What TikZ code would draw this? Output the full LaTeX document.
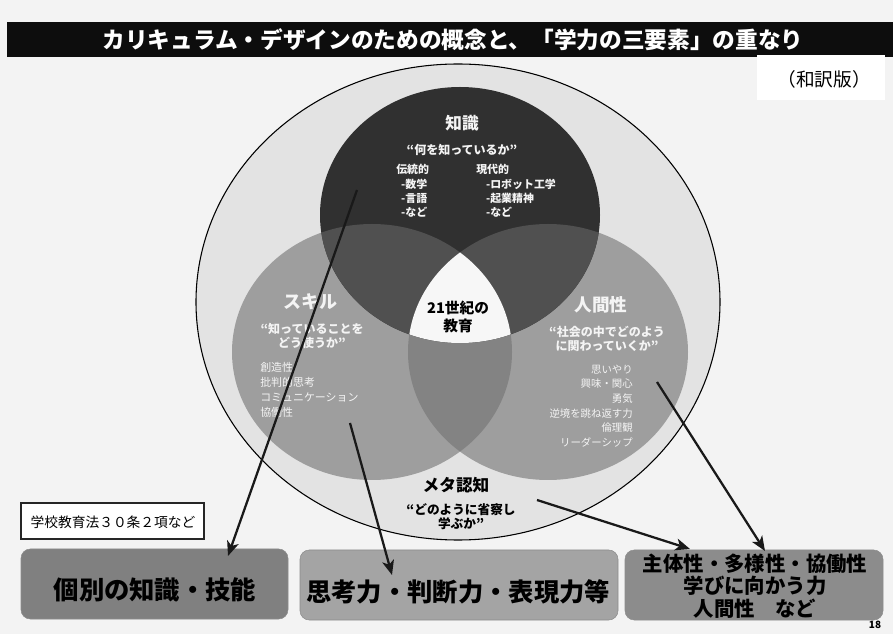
\documentclass[tikz,border=0pt]{standalone}
\usepackage{fontspec}
\setmainfont{Noto Sans CJK JP}
\usetikzlibrary{arrows.meta}
\definecolor{bgc}{HTML}{F3F3F3}
\definecolor{ringc}{HTML}{E3E3E3}
\definecolor{sidec}{HTML}{9E9E9E}
\definecolor{lrc}{HTML}{838383}
\definecolor{darkc}{HTML}{303030}
\definecolor{tsc}{HTML}{505050}
\definecolor{boxa}{HTML}{808080}
\definecolor{boxb}{HTML}{A4A4A4}
\definecolor{boxc}{HTML}{8C8C8C}
\definecolor{wtxt}{HTML}{F4F4F4}
\tikzset{
  titletext/.style={text=white, font=\bfseries\fontsize{17}{20}\selectfont, inner sep=0pt},
  ctitle/.style={text=wtxt, font=\bfseries\fontsize{12.5}{15}\selectfont, inner sep=0pt},
  cquote/.style={text=wtxt, font=\bfseries\fontsize{9}{10.5}\selectfont, align=center, inner sep=0pt},
  clist/.style={text=wtxt, font=\fontsize{8.2}{10.8}\selectfont, inner sep=0pt},
  btxt/.style={text=black, font=\bfseries\fontsize{11}{13.5}\selectfont, align=center, inner sep=0pt},
  bigbox/.style={rounded corners=7pt, draw=black!45, line width=0.4pt, minimum height=52.5pt, inner sep=0pt},
  boxtext/.style={text=black, font=\bfseries\fontsize{19}{22}\selectfont, inner sep=0pt},
  conn/.style={line width=1.7pt, draw=black!90, -{Stealth[length=11pt,width=9pt,inset=3pt]}},
}
\begin{document}
\begin{tikzpicture}[x=0.75pt,y=-0.75pt]
\useasboundingbox (0,0) rectangle (893,634);
\fill[bgc] (0,0) rectangle (893,634);
% title bar
\fill[black!95] (7,22) rectangle (893,57);
\node[titletext] (title) at (453,40) {カリキュラム・デザインのための概念と、「学力の三要素」の重なり};
\fill[white] (757,55) rectangle (885,100);
\node[font=\fontsize{14}{16}\selectfont, inner sep=0pt] (wayaku) at (824,79) {（和訳版）};
% outer ellipse
\draw[fill=ringc, line width=0.8pt] (458,302) ellipse [x radius=262, y radius=238];
% Venn
\fill[sidec] (372,352) ellipse [x radius=140, y radius=128];
\fill[sidec] (548,352) ellipse [x radius=140, y radius=128];
\begin{scope}
  \clip (372,352) ellipse [x radius=140, y radius=128];
  \fill[lrc] (548,352) ellipse [x radius=140, y radius=128];
\end{scope}
\fill[darkc] (460,215) ellipse [x radius=140, y radius=128];
\begin{scope}
  \clip (460,215) ellipse [x radius=140, y radius=128];
  \fill[tsc] (372,352) ellipse [x radius=140, y radius=128];
  \fill[tsc] (548,352) ellipse [x radius=140, y radius=128];
\end{scope}
\begin{scope}
  \clip (460,215) ellipse [x radius=140, y radius=128];
  \clip (372,352) ellipse [x radius=140, y radius=128];
  \fill[white!97!black] (548,352) ellipse [x radius=140, y radius=128];
\end{scope}
% knowledge
\node[ctitle] (kt) at (462,123) {知識};
\node[cquote] (kq) at (462,150) {“何を知っているか”};
\node[clist, align=left, anchor=west, font=\bfseries\fontsize{8.2}{10.8}\selectfont] (kl) at (396,191) {伝統的\\\hspace{0.45em}-数学\\\hspace{0.45em}-言語\\\hspace{0.45em}-など};
\node[clist, align=left, anchor=west, font=\bfseries\fontsize{8.2}{10.8}\selectfont] (kr) at (476,191) {現代的\\\hspace{0.9em}-ロボット工学\\\hspace{0.9em}-起業精神\\\hspace{0.9em}-など};
% skill
\node[ctitle, font=\bfseries\fontsize{13.5}{15}\selectfont] (st) at (310,302) {スキル};
\node[cquote] (sq) at (312,336) {“知っていることを\\どう使うか”};
\node[clist, align=left, anchor=west, font=\fontsize{8.2}{11.3}\selectfont] (sl) at (260,390) {創造性\\批判的思考\\コミュニケーション\\協働性};
% character
\node[ctitle, font=\bfseries\fontsize{13.2}{15}\selectfont] (ht) at (601,305) {人間性};
\node[cquote] (hq) at (607,339) {“社会の中でどのよう\\に関わっていくか”};
\node[clist, align=right, anchor=east, font=\fontsize{7.8}{11}\selectfont] (hl) at (633,406) {思いやり\\興味・関心\\勇気\\逆境を跳ね返す力\\倫理観\\リーダーシップ};
% center
\node[btxt] (center) at (458,317) {21世紀の\\教育};
% meta
\node[text=black, font=\bfseries\fontsize{12.5}{15}\selectfont, inner sep=0pt] (mt) at (456,485) {メタ認知};
\node[text=black, font=\bfseries\fontsize{9.5}{10.5}\selectfont, align=center, inner sep=0pt] (mq) at (461,517) {“どのように省察し\\学ぶか”};
% label box
\node[draw=black!85, line width=1pt, fill=white, minimum width=137.25pt, minimum height=27pt, inner sep=0pt] (lawbox) at (112.5,521) {};
\node[font=\fontsize{10.3}{12}\selectfont, inner sep=0pt] (lawtxt) at (113,522) {学校教育法３０条２項など};
% bottom boxes
\node[bigbox, fill=boxa, minimum width=200.25pt] (box1) at (154.5,584) {};
\node[boxtext] (t1) at (155,590) {個別の知識・技能};
\node[bigbox, fill=boxb, minimum width=238.5pt] (box2) at (459,585) {};
\node[boxtext] (t2) at (458,592) {思考力・判断力・表現力等};
\node[bigbox, fill=boxc, minimum width=193.5pt] (box3) at (754,585) {};
\node[boxtext, font=\bfseries\fontsize{15.3}{17}\selectfont, align=center] (t3) at (755,586) {主体性・多様性・協働性\\学びに向かう力\\人間性　など};
\node[font=\bfseries\fontsize{7.5}{9}\selectfont, inner sep=0pt] (pg) at (875,625) {18};
% arrows
\coordinate (a1s) at (357,190);
\coordinate (a1e) at (228,556);
\coordinate (a2s) at (350,423);
\coordinate (a2e) at (392,575);
\coordinate (a3s) at (657,382);
\coordinate (a3e) at (765,551);
\coordinate (a4s) at (537,500);
\coordinate (a4e) at (690,549);
\draw[conn] (a1s) -- (a1e);
\draw[conn] (a2s) -- (a2e);
\draw[conn] (a3s) -- (a3e);
\draw[conn] (a4s) -- (a4e);
\end{tikzpicture}
\end{document}
